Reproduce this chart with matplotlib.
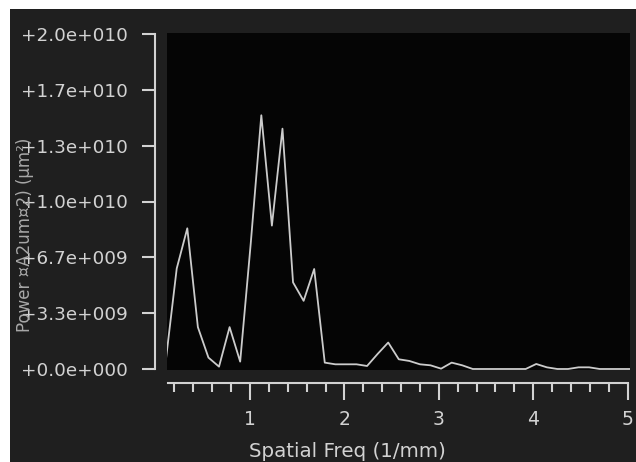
import numpy as np
import matplotlib
matplotlib.use("Agg")
import matplotlib.pyplot as plt
from matplotlib.patches import Rectangle

# spectrum (freq in 1/mm, power in um^2)
freq = [0.112, 0.224, 0.336, 0.448, 0.560, 0.672, 0.784, 0.896, 1.008, 1.120,
        1.232, 1.344, 1.456, 1.568, 1.680, 1.792, 1.904, 2.016, 2.128, 2.240,
        2.352, 2.464, 2.576, 2.688, 2.800, 2.912, 3.024, 3.136, 3.248, 3.360,
        3.472, 3.584, 3.696, 3.808, 3.920, 4.032, 4.144, 4.256, 4.368, 4.480,
        4.592, 4.704, 4.816, 4.928, 5.040]
power = [0.68e9, 6.0e9, 8.4e9, 2.5e9, 0.68e9, 0.14e9, 2.5e9, 0.44e9, 7.5e9, 15.15e9,
         8.56e9, 14.35e9, 5.17e9, 4.07e9, 5.97e9, 0.38e9, 0.28e9, 0.28e9, 0.28e9, 0.18e9,
         0.9e9, 1.58e9, 0.58e9, 0.48e9, 0.28e9, 0.22e9, 0.02e9, 0.38e9, 0.22e9, 0.0,
         0.0, 0.0, 0.0, 0.0, 0.0, 0.3e9, 0.1e9, 0.0, 0.0, 0.1e9,
         0.1e9, 0.0, 0.0, 0.0, 0.0]

ytick_vals = [0, 3.333e9, 6.667e9, 1.0e10, 1.333e10, 1.667e10, 2.0e10]
ytick_labels = ['+0.0e+000', '+3.3e+009', '+6.7e+009', '+1.0e+010',
                '+1.3e+010', '+1.7e+010', '+2.0e+010']
xtick_vals = [1, 2, 3, 4, 5]

W, H = 636, 462
fg = '#d2d2d2'

fig = plt.figure(figsize=(W / 100, H / 100), dpi=100, facecolor='white')
# dark panel, leaving the thin white strip on top and left
fig.patches.append(Rectangle((10 / W, 0), 1 - 10 / W, (H - 9) / H,
                             transform=fig.transFigure, facecolor='#1f1f1f',
                             edgecolor='none', zorder=-1))

ax = fig.add_axes([167 / W, (H - 370) / H, (630 - 167) / W, (370 - 33) / H])
ax.set_zorder(2)
ax.set_facecolor('#050505')
ax.plot(freq, power, color='#cccccc', lw=1.3)

ax.set_xlim(0.121, 5.025)
ax.set_ylim(-0.06e9, 2.006e10)

for s in ['top', 'right']:
    ax.spines[s].set_visible(False)
ax.spines['left'].set_position(('outward', 8.6))
ax.spines['left'].set_bounds(0, 2.0e10)
ax.spines['bottom'].set_position(('outward', 9.4))
ax.spines['bottom'].set_bounds(0.13, 5.0)
for s in ['left', 'bottom']:
    ax.spines[s].set_color(fg)
    ax.spines[s].set_linewidth(1.5)

ax.set_yticks(ytick_vals)
ax.set_yticklabels(ytick_labels)
ax.set_xticks(xtick_vals)
ax.set_xticklabels([str(v) for v in xtick_vals])
ax.set_xticks(np.arange(0.2, 5.0, 0.2), minor=True)

ax.tick_params(axis='y', direction='out', length=9.4, width=1.5, color=fg,
               labelcolor=fg, labelsize=13.2, pad=10.5)
ax.tick_params(axis='x', which='major', direction='out', length=12, width=1.5,
               color=fg, labelcolor=fg, labelsize=13.5, pad=7.5)
ax.tick_params(axis='x', which='minor', direction='out', length=6.5, width=1.5,
               color=fg)

fig.text(347 / W, (H - 457) / H, 'Spatial Freq (1/mm)', color=fg, fontsize=14.3,
         ha='center', va='baseline', zorder=3)
# the y title sits over the tick labels, as in the source image
fig.text(25 / W, (H - 235) / H, 'Power \u00a4A2um\u00a42) (\u00b5m\u00b2)', color='#a8a8a8',
         fontsize=12, rotation=90, ha='center', va='center', zorder=3)

fig.savefig('out.png', dpi=100, facecolor=fig.get_facecolor())
